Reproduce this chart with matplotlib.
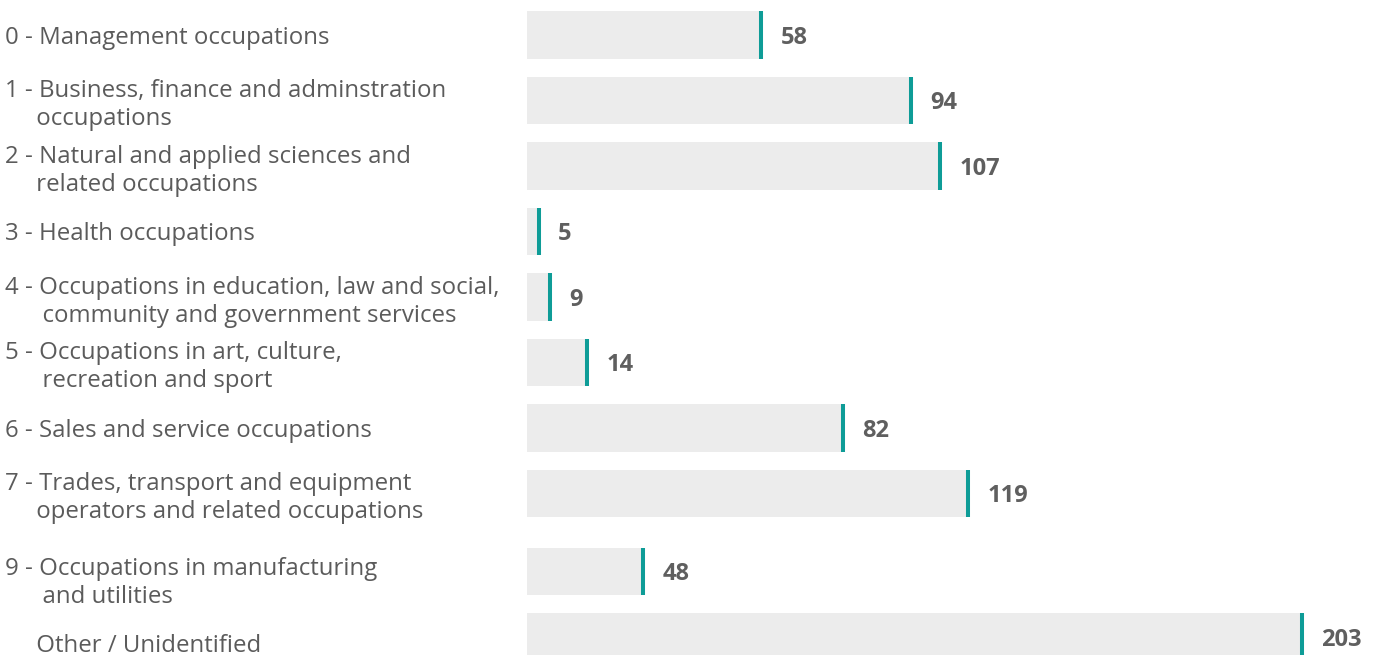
import numpy as np
import matplotlib.pyplot as plt

# occupation groups (NOC broad categories)
labels = [
    "0 - Management occupations",
    "1 - Business, finance and adminstration\n     occupations",
    "2 - Natural and applied sciences and\n     related occupations",
    "3 - Health occupations",
    "4 - Occupations in education, law and social,\n      community and government services",
    "5 - Occupations in art, culture,\n      recreation and sport",
    "6 - Sales and service occupations",
    "7 - Trades, transport and equipment\n     operators and related occupations",
    "9 - Occupations in manufacturing\n      and utilities",
    "     Other / Unidentified",
]
values = [58, 94, 107, 5, 9, 14, 82, 119, 48, 203]
# bar extents as drawn in the picture (not exactly proportional to the labels)
bar_lengths = [61.3, 100.6, 108.2, 3.1, 6.0, 15.7, 82.8, 115.5, 30.4, 203]

bar_color = "#ececec"
line_color = "#0e9c97"
label_color = "#5b5b5b"
value_color = "#5f5f5f"

plt.rcParams['font.family'] = ['Open Sans', 'DejaVu Sans']

fig = plt.figure(figsize=(13.74, 6.55), dpi=100)
ax = fig.add_axes([0, 0, 1, 1])

n = len(labels)
y = np.arange(n, dtype=float)
y[8:] += 0.19          # category 8 is absent, leaves a wider gap
label_y = y.copy()
label_y[8:] += 0.1

ax.barh(y, bar_lengths, height=0.73, color=bar_color, zorder=1)
ax.vlines(bar_lengths, y - 0.365, y + 0.365, color=line_color, linewidth=2.9, zorder=2)

for yi, ln, v in zip(y, bar_lengths, values):
    ax.annotate(str(v), (ln, yi), xytext=(14, 0), textcoords="offset points",
                ha="left", va="center_baseline", fontsize=17, fontweight="bold", color=value_color)

# category labels, left aligned near the figure edge
for yi, lab in zip(label_y, labels):
    ax.text(0.0036, yi, lab, transform=ax.get_yaxis_transform(), ha="left", va="center_baseline",
            fontsize=17.3, color=label_color, linespacing=1.2)

px = (1302 - 527) / 203.0
ax.set_xlim(-527 / px, (1374 - 527) / px)
ax.set_ylim((655 - 35) / 65.5, -35 / 65.5)
ax.axis("off")

fig.savefig("out.png", dpi=100)
